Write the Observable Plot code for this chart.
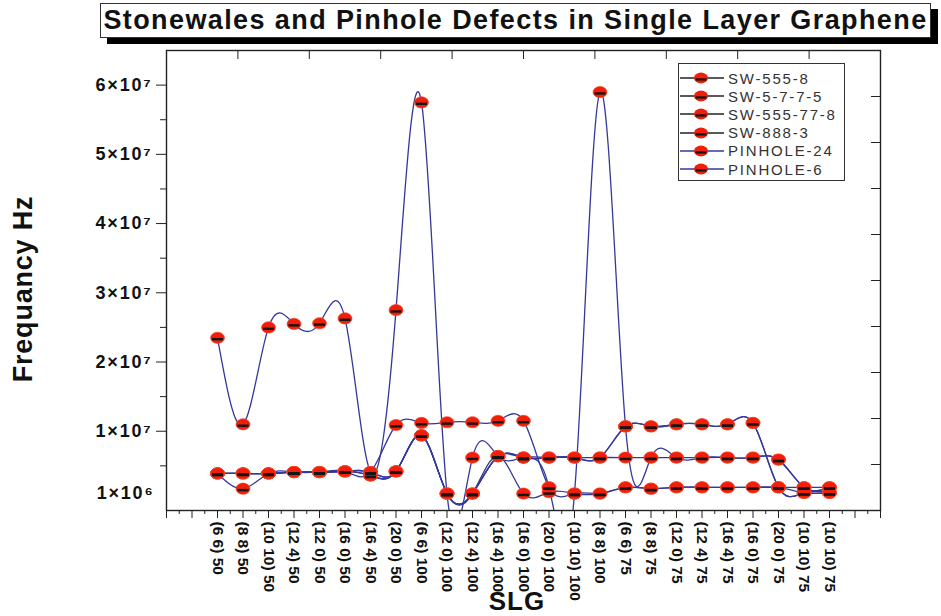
<!DOCTYPE html>
<html><head><meta charset="utf-8">
<script src="https://cdn.jsdelivr.net/npm/d3@7"></script>
<script src="https://cdn.jsdelivr.net/npm/@observablehq/plot@0.6"></script>
<style>
body{margin:0;background:#fff;font-family:"Liberation Sans",Arial,sans-serif;}
#wrap{position:relative;width:941px;height:616px;overflow:hidden;background:#fff;}
#wrap > svg{position:absolute;left:0;top:0;}
#wrap > svg g[aria-label="y-axis tick label"] text{letter-spacing:1.8px;}
#title{position:absolute;left:100px;top:3px;width:829px;height:33px;border:1.5px solid #333;background:#fff;box-shadow:7px 6px 0 #000;font-weight:bold;font-size:27px;letter-spacing:1.4px;line-height:33px;text-align:center;color:#111;white-space:nowrap;}
#ylab{position:absolute;left:23px;top:289px;transform:translate(-50%,-50%) rotate(-90deg);font-weight:bold;font-size:27px;letter-spacing:0.8px;white-space:nowrap;color:#111;}
#xlab{position:absolute;left:517px;top:601px;transform:translate(-50%,-50%);font-weight:bold;font-size:26px;letter-spacing:1px;color:#111;}
#legend{position:absolute;left:678px;top:63px;width:167px;height:118px;border:1px solid #333;background:#fff;box-sizing:border-box;padding-top:5px;}
.row{display:flex;align-items:center;height:18.2px;font-size:15px;letter-spacing:1.8px;color:#333;white-space:nowrap;}
.row svg{display:block;margin-left:1px;margin-right:4px;flex:none;}
</style>
</head><body>
<div id="wrap"></div>
<script>
// ---- data (Hz) ----
const categories = ["(6 6) 50","(8 8) 50","(10 10) 50","(12 4) 50","(12 0) 50","(16 0) 50","(16 4) 50","(20 0) 50",
  "(6 6) 100","(12 0) 100","(12 4) 100","(16 4) 100","(16 0) 100","(20 0) 100","(10 10) 100","(8 8) 100",
  "(6 6) 75","(8 8) 75","(12 0) 75","(12 4) 75","(16 4) 75","(16 0) 75","(20 0) 75","(10 10) 75","(10 10) 75"];
const seriesNames = ["SW-555-8","SW-5-7-7-5","SW-555-77-8","SW-888-3","PINHOLE-24","PINHOLE-6"];
const sw5558   = [23.5e6,11.0e6,25.0e6,25.5e6,25.6e6,26.3e6,4.1e6,27.5e6,57.5e6,1.0e6,6.2e6,6.4e6,6.2e6,6.2e6,6.2e6,6.2e6,10.7e6,10.7e6,11.0e6,11.0e6,11.0e6,11.2e6,1.9e6,1.1e6,1.1e6];
const sw5775   = [3.9e6,3.9e6,3.9e6,4.1e6,4.1e6,4.2e6,4.1e6,10.9e6,11.2e6,11.3e6,11.3e6,11.5e6,11.5e6,1.9e6,1.0e6,1.0e6,1.9e6,1.7e6,1.9e6,1.9e6,1.9e6,1.9e6,1.9e6,1.9e6,1.9e6];
const sw555778 = [3.9e6,1.7e6,3.9e6,4.1e6,4.1e6,4.2e6,3.6e6,4.2e6,9.4e6,1.0e6,1.0e6,6.4e6,1.0e6,1.2e6,1.0e6,1.0e6,1.9e6,1.7e6,1.9e6,1.9e6,1.9e6,1.9e6,1.9e6,1.1e6,1.1e6];
const sw8883   = [3.9e6,3.9e6,3.9e6,4.1e6,4.1e6,4.2e6,3.6e6,4.2e6,9.4e6,1.0e6,1.0e6,6.4e6,6.2e6,1.9e6,1.0e6,59.0e6,10.7e6,6.2e6,6.2e6,6.2e6,6.2e6,6.2e6,5.9e6,1.9e6,1.9e6];
const pinhole24= [3.9e6,3.9e6,3.9e6,4.1e6,4.1e6,4.2e6,4.1e6,4.2e6,9.4e6,1.0e6,1.0e6,6.4e6,6.2e6,6.2e6,6.2e6,6.2e6,6.2e6,6.2e6,6.2e6,6.2e6,6.2e6,6.2e6,5.9e6,1.9e6,1.9e6];
const pinhole6 = [3.9e6,3.9e6,3.9e6,4.1e6,4.1e6,4.2e6,4.1e6,4.2e6,9.4e6,1.0e6,1.0e6,6.4e6,6.2e6,6.2e6,6.2e6,6.2e6,10.7e6,10.7e6,11.0e6,11.0e6,11.0e6,11.2e6,1.9e6,1.1e6,1.1e6];
const yTickValues = [1e7,2e7,3e7,4e7,5e7,6e7];
const yTickLabels = ["1×10⁷","2×10⁷","3×10⁷","4×10⁷","5×10⁷","6×10⁷"];
const yBottomTick = 1e6, yBottomLabel = "1×10⁶";

const allSeries = [sw5558, sw5775, sw555778, sw8883, pinhole24, pinhole6];
const rows = allSeries.flatMap((vals, s) => vals.map((v, i) => ({series: seriesNames[s], i, v})));

const LINE = "#34389a", RED = "#ef1f0c";
const ball = {draw(c){const rx=7, ry=5.6, k=0.5523;
  c.moveTo(rx,0); c.bezierCurveTo(rx,ry*k,rx*k,ry,0,ry); c.bezierCurveTo(-rx*k,ry,-rx,ry*k,-rx,0);
  c.bezierCurveTo(-rx,-ry*k,-rx*k,-ry,0,-ry); c.bezierCurveTo(rx*k,-ry,rx,-ry*k,rx,0); c.closePath();}};
const bar = {draw(c){c.rect(-5.5,0.2,11,2.4);}};

const xDom = [-2, 26], yDom = [-1.45e6, 6.5e7];
const fw = 941-166-61, fh = 616-50-106;
const font = {fontSize: 18, fontWeight: "bold", fill: "#111"};

const chart = Plot.plot({
  width: 941, height: 616,
  marginTop: 50, marginLeft: 166, marginRight: 61, marginBottom: 106,
  x: {domain: xDom}, y: {domain: yDom},
  style: {fontFamily: "'Liberation Sans', Arial, sans-serif", background: "transparent", color: "#111"},
  marks: [
    Plot.frame({stroke: "#222", strokeWidth: 1.4}),
    // bottom axis: labelled major ticks + unlabelled ticks
    Plot.axisX({ticks: d3.range(categories.length), tickFormat: i => categories[i], tickRotate: 90,
      tickSize: 8, tickPadding: 3, fontSize: 15.5, fontWeight: "bold", fill: "#111", stroke: "#222", label: null}),
    Plot.axisX({ticks: d3.range(xDom[0], xDom[1] + 0.01, 1).filter(t => t < 0 || t >= categories.length),
      tickSize: 8, tickFormat: () => "", stroke: "#222", label: null}),
    Plot.axisX({ticks: d3.range(xDom[0] + 0.5, xDom[1], 1), tickSize: 4, tickFormat: () => "", stroke: "#222", label: null}),
    // top ticks (inward)
    Plot.ruleX(d3.range(11).map(k => xDom[0] + k * (xDom[1] - xDom[0]) / 10), {insetBottom: fh - 9, stroke: "#222"}),
    // left axis
    Plot.axisY({ticks: yTickValues, tickFormat: (d, k) => yTickLabels[k], tickSize: 10, tickPadding: 4, ...font, stroke: "#222", label: null}),
    Plot.axisY({ticks: yTickValues.map(v => v - 5e6), tickSize: 6, tickFormat: () => "", stroke: "#222", label: null}),
    Plot.axisY({ticks: [yBottomTick], tickSize: 0, tickPadding: 12, tickFormat: () => yBottomLabel, ...font, label: null}),
    // right ticks (inward)
    Plot.ruleY(d3.range(11).map(k => yDom[0] + k * (yDom[1] - yDom[0]) / 10), {insetLeft: fw - 9, stroke: "#222"}),
    // data
    Plot.line(rows, {x: "i", y: "v", z: "series", curve: "natural", stroke: LINE, strokeWidth: 1.3, clip: true}),
    Plot.dot(rows, {x: "i", y: "v", symbol: ball, fill: RED, stroke: "#f5502e", strokeWidth: 0.6}),
    Plot.dot(rows, {x: "i", y: "v", symbol: bar, fill: "#151515"})
  ]
});
const wrap = document.getElementById("wrap");
wrap.appendChild(chart);

const t = document.createElement("div"); t.id = "title";
t.textContent = "Stonewales and Pinhole Defects in Single Layer Graphene"; wrap.appendChild(t);
const yl = document.createElement("div"); yl.id = "ylab"; yl.textContent = "Frequancy Hz"; wrap.appendChild(yl);
const xl = document.createElement("div"); xl.id = "xlab"; xl.textContent = "SLG"; wrap.appendChild(xl);
const lg = document.createElement("div"); lg.id = "legend";
seriesNames.forEach((name, s) => {
  const r = document.createElement("div"); r.className = "row";
  const lineCol = s < 4 ? "#222" : LINE;
  r.innerHTML = `<svg width="44" height="14"><line x1="0" x2="44" y1="7" y2="7" stroke="${lineCol}" stroke-width="1.3"/>`+
    `<ellipse cx="21" cy="7" rx="7" ry="5.4" fill="${RED}"/><rect x="15.5" y="7.3" width="11" height="2.3" fill="#151515"/></svg>`+
    `<span>${name}</span>`;
  lg.appendChild(r);
});
wrap.appendChild(lg);
</script>
</body></html>
